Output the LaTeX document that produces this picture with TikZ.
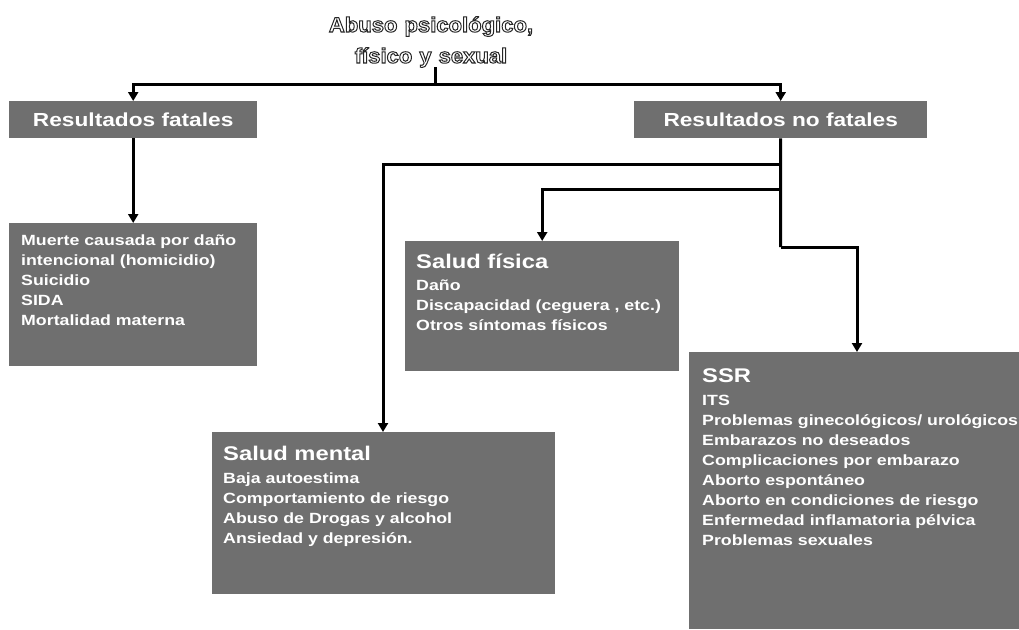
\documentclass[tikz,border=0pt]{standalone}
\usepackage{fontspec}
\setmainfont{Liberation Sans}
\newfontfamily\lsp[FakeStretch=1.2]{Liberation Sans}
\newfontfamily\tsp[FakeStretch=1.05]{Liberation Sans}
\usetikzlibrary{arrows.meta}
\definecolor{boxgray}{RGB}{111,111,111}
\tikzset{
  box/.style={fill=boxgray, draw=none, inner sep=0pt, anchor=north west},
  headbox/.style={box, text=white, font=\lsp\bfseries\fontsize{18.9}{22}\selectfont},
  boxhead/.style={text=white, inner sep=0pt, anchor=base west, font=\lsp\bfseries\fontsize{19.8}{22}\selectfont},
  items/.style={text=white, inner sep=0pt, anchor=base west, text width=400pt, align=left, font=\lsp\bfseries\fontsize{14.8}{20}\selectfont},
  conn/.style={line width=3pt, draw=black},
  arr/.style={conn, -{Triangle[width=10pt,length=9pt]}}
}
\begin{document}
\begin{tikzpicture}[x=1pt,y=-1pt]
\useasboundingbox (0,0) rectangle (1019,629);
% boxes
\node[headbox, minimum width=248pt, minimum height=37pt] (fat) at (9,101) {Resultados fatales};
\node[headbox, minimum width=293pt, minimum height=37pt] (nofat) at (634,101) {Resultados no fatales};
\node[box, minimum width=248pt, minimum height=143pt] (fatlist) at (9,223) {};
\node[box, minimum width=274pt, minimum height=130pt] (fisica) at (405,241) {};
\node[box, minimum width=343pt, minimum height=162pt] (mental) at (212,432) {};
\node[box, minimum width=330pt, minimum height=277pt] (ssr) at (689,352) {};
% texts
\node[items] (fattxt) at (21,245) {Muerte causada por daño\\intencional (homicidio)\\Suicidio\\SIDA\\Mortalidad materna};
\node[boxhead] (fish) at (416,268) {Salud física};
\node[items] (fistxt) at (416,290) {Daño\\Discapacidad (ceguera , etc.)\\Otros síntomas físicos};
\node[boxhead] (menh) at (223,460) {Salud mental};
\node[items] (mentxt) at (223,483) {Baja autoestima\\Comportamiento de riesgo\\Abuso de Drogas y alcohol\\Ansiedad y depresión.};
\node[boxhead] (ssrh) at (702,382) {SSR};
\node[items] (ssrtxt) at (702,405) {ITS\\Problemas ginecológicos/ urológicos\\Embarazos no deseados\\Complicaciones por embarazo\\Aborto espontáneo\\Aborto en condiciones de riesgo\\Enfermedad inflamatoria pélvica\\Problemas sexuales};
% junctions
\coordinate (j0) at (435,84);
\coordinate (b1) at (780.5,164);
\coordinate (b2) at (780.5,189);
\coordinate (b3) at (780.5,247);
\coordinate (b4) at (857,247);
% connectors
\draw[arr] (j0) -| (fat.north);
\draw[arr] (j0) -| (nofat.north);
\draw[arr] (fat.south) -- (fatlist.north);
\draw[conn] (nofat.south) -- (b3);
\draw[arr] (b3) -- (b4) -- (b4 |- ssr.north);
\draw[arr] (b1) -| (mental.north -| 383,0);
\draw[arr] (b2) -| (fisica.north);
\draw[conn] (j0 |- 0,67) -- (j0);
% title
\node[inner sep=0pt, anchor=base, text width=300pt, align=center,
      font=\tsp\bfseries\fontsize{21}{31}\selectfont] (title) at (431,32)
  {\color{white}\special{pdf:literal direct 0.15 0.15 0.15 RG 1.0 w 2 Tr}Abuso psicológico,\\físico y sexual\special{pdf:literal direct 0 Tr}};
\end{tikzpicture}
\end{document}
